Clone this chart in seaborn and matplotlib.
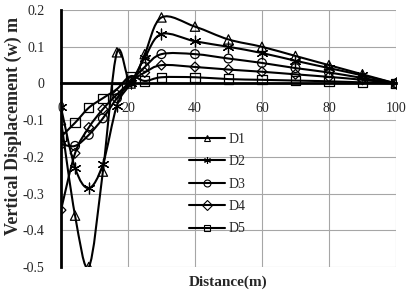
import matplotlib
matplotlib.use("Agg")
import matplotlib.pyplot as plt
import seaborn as sns
from matplotlib.path import Path
from matplotlib.patches import PathPatch
from matplotlib.lines import Line2D

# ---- Data ----
distance = [0, 4.2, 8.3, 12.5, 16.7, 20.8, 25, 30, 40, 50, 60, 70, 80, 90, 100]
d1 = [-0.10, -0.36, -0.50, -0.24, 0.085, 0.0, 0.08, 0.18, 0.155, 0.12, 0.10, 0.075, 0.05, 0.025, 0.0]
d2 = [-0.065, -0.23, -0.285, -0.22, -0.06, 0.0, 0.07, 0.135, 0.115, 0.10, 0.083, 0.062, 0.042, 0.022, 0.0]
d3 = [-0.165, -0.17, -0.14, -0.095, -0.04, 0.005, 0.045, 0.08, 0.08, 0.068, 0.056, 0.042, 0.03, 0.015, 0.0]
d4 = [-0.345, -0.19, -0.12, -0.07, -0.03, 0.005, 0.03, 0.05, 0.045, 0.038, 0.032, 0.025, 0.018, 0.01, 0.0]
d5 = [-0.145, -0.107, -0.066, -0.04, -0.015, 0.02, 0.007, 0.017, 0.017, 0.012, 0.01, 0.008, 0.006, 0.003, 0.0]

series_names = ["D1", "D2", "D3", "D4", "D5"]
series_values = [d1, d2, d3, d4, d5]
markers = ["^", (6, 2, 0), "o", "D", "s"]
marker_sizes = [45, 60, 40, 25, 45]

x_ticks = [0, 20, 40, 60, 80, 100]
y_ticks = [0.2, 0.1, 0, -0.1, -0.2, -0.3, -0.4, -0.5]
y_tick_labels = ["0.2", "0.1", "0", "-0.1", "-0.2", "-0.3", "-0.4", "-0.5"]


def smooth_path(xs, ys):
    # Excel-style smoothed line: cubic Bezier segments through every point
    pts = list(zip(xs, ys))
    verts = [pts[0]]
    codes = [Path.MOVETO]
    n = len(pts)
    for i in range(n - 1):
        p0 = pts[i - 1] if i > 0 else pts[i]
        p1 = pts[i]
        p2 = pts[i + 1]
        p3 = pts[i + 2] if i + 2 < n else pts[i + 1]
        c1 = (p1[0] + (p2[0] - p0[0]) / 6, p1[1] + (p2[1] - p0[1]) / 6)
        c2 = (p2[0] - (p3[0] - p1[0]) / 6, p2[1] - (p3[1] - p1[1]) / 6)
        verts += [c1, c2, p2]
        codes += [Path.CURVE4] * 3
    return Path(verts, codes)


# ---- Style ----
sns.set_style("white")
plt.rcParams['font.family'] = ['Liberation Serif', 'DejaVu Serif']
plt.rcParams['axes.unicode_minus'] = False

fig = plt.figure(figsize=(4.13, 2.97), dpi=100)
ax = fig.add_axes([0.1477, 0.101, 0.811, 0.865])

# ---- Plot ----
for name, vals, mk, ms in zip(series_names, series_values, markers, marker_sizes):
    ax.add_patch(PathPatch(smooth_path(distance, vals), facecolor="none",
                           edgecolor="black", linewidth=1.5, zorder=3))
    if isinstance(mk, tuple):
        # asterisk is a line-only marker, so it needs a real colour
        sns.scatterplot(x=distance, y=vals, marker=mk, s=ms, color="black",
                        linewidth=0.9, ax=ax, zorder=4)
    else:
        sns.scatterplot(x=distance, y=vals, marker=mk, s=ms, facecolor="none",
                        edgecolor="black", linewidth=0.9, ax=ax, zorder=4)

ax.set_xlim(0, 100)
ax.set_ylim(-0.5, 0.2)
ax.set_xticks(x_ticks)
ax.set_yticks(y_ticks)
ax.set_yticklabels(y_tick_labels)
ax.tick_params(length=0, labelsize=10)
ax.tick_params(axis="x", pad=13)
ax.tick_params(axis="y", pad=12)

ax.grid(True, color="#A6A6A6", linewidth=0.8)
ax.set_axisbelow(True)
for side in ["top", "right"]:
    ax.spines[side].set_visible(False)
ax.spines["left"].set_linewidth(2)
ax.spines["left"].set_color("black")
ax.spines["bottom"].set_position(("data", 0))
ax.spines["bottom"].set_linewidth(2)
ax.spines["bottom"].set_color("black")

ax.set_xlabel("Distance(m)", fontsize=11, fontweight="bold")
ax.set_ylabel("Vertical Displacement (w) m", fontsize=13, fontweight="bold")
ax.xaxis.set_label_coords(0.5, -0.035)
ax.yaxis.set_label_coords(-0.117, 0.549)

handles = [Line2D([], [], color="black", linewidth=1.5, marker=mk, markersize=5,
                  markerfacecolor="none", markeredgecolor="black", markeredgewidth=0.8)
           for mk in markers]
ax.legend(handles, series_names, loc="upper left", bbox_to_anchor=(0.36, 0.55),
          frameon=False, borderpad=0, handlelength=2.66, handletextpad=0.2,
          labelspacing=0.68, fontsize=10)

plt.savefig("out.png", dpi=100)
